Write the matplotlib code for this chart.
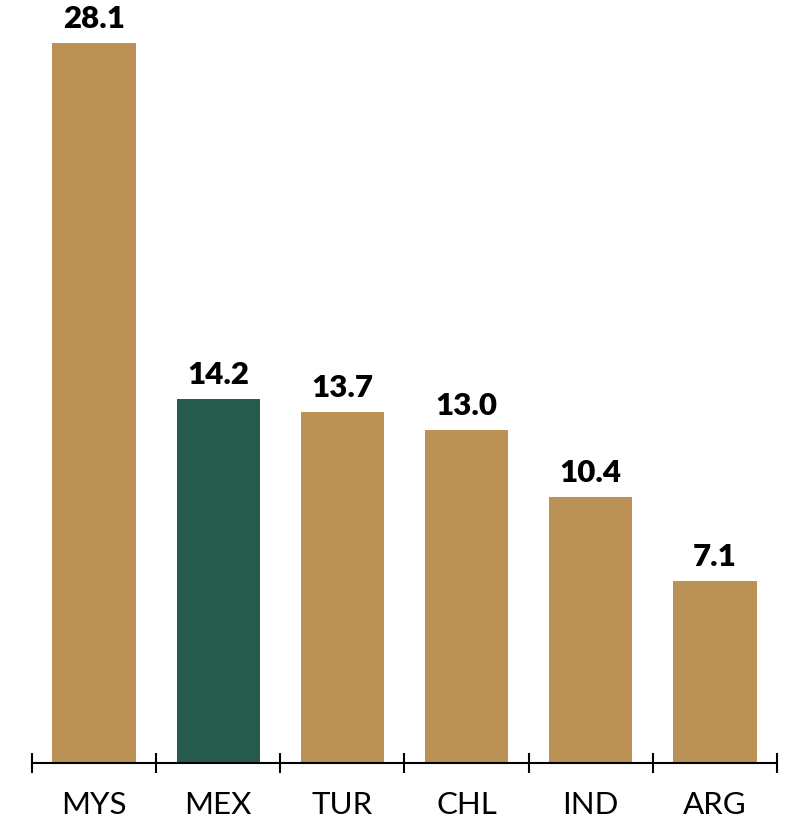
import matplotlib
matplotlib.use("Agg")
import matplotlib.pyplot as plt

categories = ["MYS", "MEX", "TUR", "CHL", "IND", "ARG"]
values = [28.1, 14.2, 13.7, 13.0, 10.4, 7.1]
highlight = "MEX"

gold = "#BB9155"
green = "#245B4D"

W, H = 793, 821
fig = plt.figure(figsize=(W / 100, H / 100), dpi=100)
ax = fig.add_axes([32 / W, 58 / H, 745 / W, 763 / H])

x = list(range(len(categories)))
colors = [green if c == highlight else gold for c in categories]
ax.bar(x, values, width=0.67, color=colors, zorder=2)

for xi, v in zip(x, values):
    ax.annotate(f"{v:.1f}", (xi, v), xytext=(0, 7), textcoords="offset points",
                ha="center", va="bottom", fontsize=22.5, fontweight="heavy",
                family=["Lato", "DejaVu Sans"], color="black")

ax.set_xlim(-0.5, len(categories) - 0.5)
ax.set_ylim(0, 763 / (720 / 28.1))

for s in ["left", "right", "top"]:
    ax.spines[s].set_visible(False)
ax.spines["bottom"].set_linewidth(1.5)
ax.spines["bottom"].set_color("black")
ax.set_yticks([])

ax.set_xticks(x)
ax.set_xticklabels(categories, fontsize=22.5, family=["Lato", "DejaVu Sans"])
ax.tick_params(axis="x", which="major", length=0, pad=20)
bounds = [i - 0.5 for i in range(len(categories) + 1)]
ax.set_xticks(bounds, minor=True)
ax.tick_params(axis="x", which="minor", direction="inout", length=14, width=1.5, color="black")

fig.savefig("out.png", dpi=100)
